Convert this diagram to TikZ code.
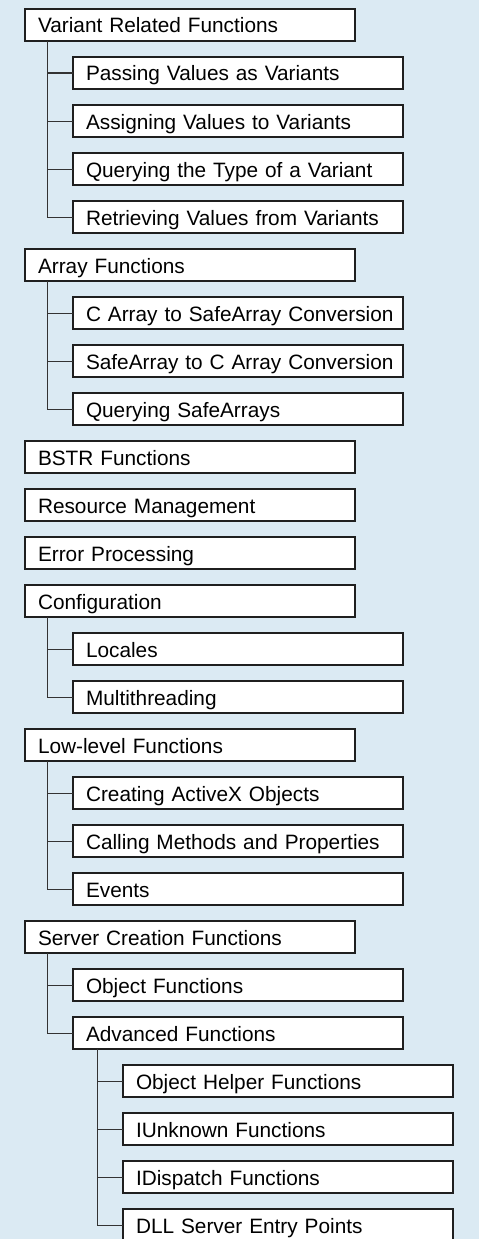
\documentclass[tikz,border=0pt]{standalone}
\usepackage{fontspec}
\setmainfont{Liberation Sans}
\usetikzlibrary{positioning}
\definecolor{bgblue}{RGB}{219,234,243}
\tikzset{
  fnbox/.style={draw=black!88, line width=1.1pt, fill=white, outer sep=0pt,
    minimum width=330pt, minimum height=32pt, text width=304pt,
    inner xsep=13pt, inner ysep=0pt, align=left,
    text height=16pt, text depth=0pt, font=\fontsize{20.8}{22}\selectfont},
  link/.style={draw=black!80, line width=1pt}
}

\begin{document}
\begin{tikzpicture}
  \fill [bgblue] (0,0) rectangle (479pt,-1239pt);
  \useasboundingbox (0,0) rectangle (479pt,-1239pt);

  \begin{scope}[every node/.style={fnbox}]
    \node [anchor=north west] (varrel) at (25pt,-9pt) {Variant Related Functions};
    \node [below right=16pt and 48pt of varrel.south west] (passing) {Passing Values as Variants};
    \node [below right=16pt and 0pt of passing.south west] (assigning) {Assigning Values to Variants};
    \node [below right=16pt and 0pt of assigning.south west] (querytype) {Querying the Type of a Variant};
    \node [below right=16pt and 0pt of querytype.south west] (retrieving) {Retrieving Values from Variants};

    \node [below right=16pt and -48pt of retrieving.south west] (arrays) {Array Functions};
    \node [below right=16pt and 48pt of arrays.south west] (carray) {\mbox{C Array to SafeArray Conversion}};
    \node [below right=16pt and 0pt of carray.south west] (safearray) {\mbox{SafeArray to C Array Conversion}};
    \node [below right=16pt and 0pt of safearray.south west] (queryarrays) {Querying SafeArrays};

    \node [below right=16pt and -48pt of queryarrays.south west] (bstr) {BSTR Functions};
    \node [below right=16pt and 0pt of bstr.south west] (resmgmt) {Resource Management};
    \node [below right=16pt and 0pt of resmgmt.south west] (errproc) {Error Processing};

    \node [below right=16pt and 0pt of errproc.south west] (config) {Configuration};
    \node [below right=16pt and 48pt of config.south west] (locales) {Locales};
    \node [below right=16pt and 0pt of locales.south west] (multithr) {Multithreading};

    \node [below right=16pt and -48pt of multithr.south west] (lowlevel) {Low-level Functions};
    \node [below right=16pt and 48pt of lowlevel.south west] (activex) {Creating ActiveX Objects};
    \node [below right=16pt and 0pt of activex.south west] (calling) {Calling Methods and Properties};
    \node [below right=16pt and 0pt of calling.south west] (events) {Events};

    \node [below right=16pt and -48pt of events.south west] (server) {Server Creation Functions};
    \node [below right=16pt and 48pt of server.south west] (objfunc) {Object Functions};
    \node [below right=16pt and 0pt of objfunc.south west] (advanced) {Advanced Functions};
    \node [below right=16pt and 50pt of advanced.south west] (objhelper) {Object Helper Functions};
    \node [below right=16pt and 0pt of objhelper.south west] (iunknown) {IUnknown Functions};
    \node [below right=16pt and 0pt of iunknown.south west] (idispatch) {IDispatch Functions};
    \node [below right=16pt and 0pt of idispatch.south west] (dllentry) {DLL Server Entry Points};
  \end{scope}

  % tree lines
  \foreach \c in {passing,assigning,querytype,retrieving}
    \draw [link] ([xshift=22pt]varrel.south west) |- (\c.west);
  \foreach \c in {carray,safearray,queryarrays}
    \draw [link] ([xshift=22pt]arrays.south west) |- (\c.west);
  \foreach \c in {locales,multithr}
    \draw [link] ([xshift=22pt]config.south west) |- (\c.west);
  \foreach \c in {activex,calling,events}
    \draw [link] ([xshift=22pt]lowlevel.south west) |- (\c.west);
  \foreach \c in {objfunc,advanced}
    \draw [link] ([xshift=22pt]server.south west) |- (\c.west);
  \foreach \c in {objhelper,iunknown,idispatch,dllentry}
    \draw [link] ([xshift=24pt]advanced.south west) |- (\c.west);

\end{tikzpicture}
\end{document}
